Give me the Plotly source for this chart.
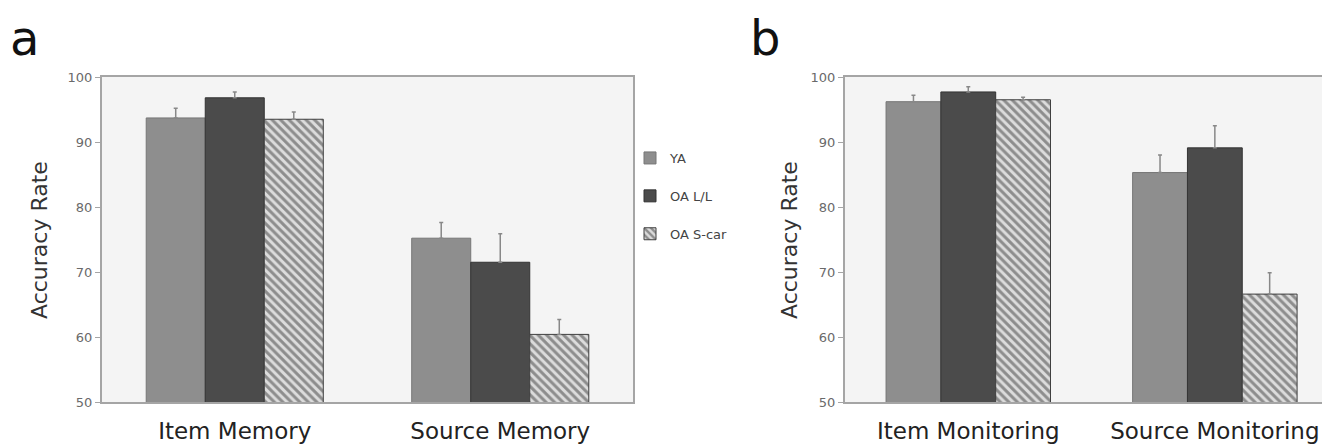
import plotly.graph_objects as go

groups = ["YA", "OA L/L", "OA S-car"]
cats_a = ["Item Memory", "Source Memory"]
cats_b = ["Item Monitoring", "Source Monitoring"]

# panel a
ya_a = [93.7, 75.2]
oall_a = [96.8, 71.5]
oas_a = [93.5, 60.4]
ya_a_err = [1.5, 2.4]
oall_a_err = [0.9, 4.4]
oas_a_err = [1.1, 2.3]

# panel b
ya_b = [96.2, 85.3]
oall_b = [97.7, 89.1]
oas_b = [96.5, 66.6]
ya_b_err = [1.0, 2.7]
oall_b_err = [0.8, 3.4]
oas_b_err = [0.4, 3.3]

y_ticks = [50, 60, 70, 80, 90, 100]

# the page body has an 8px margin; the figure is sized to end at the window edge
OFF = 8
W, H = 1330 - OFF, 445 - OFF


def px(sx):
    return (sx - OFF) / W


def py(sy):
    return 1 - (sy - OFF) / H


FONT = "DejaVu Sans, Arial, sans-serif"

styles = {
    "YA": dict(color="#8e8e8e", line=dict(color="#767676", width=1)),
    "OA L/L": dict(color="#4b4b4b", line=dict(color="#333333", width=1)),
    "OA S-car": dict(color="#dcdcdc", line=dict(color="#3f3f3f", width=1),
                     pattern=dict(shape="\\", fgcolor="#3e3e3e", bgcolor="#dcdcdc",
                                  size=6, solidity=0.5)),
}

fig = go.Figure()


def add_panel(cats, vals, errs, xa, ya, show):
    for g, v, e in zip(groups, vals, errs):
        fig.add_trace(go.Bar(
            x=cats, y=v, name=g, legendgroup=g, showlegend=show,
            marker=styles[g],
            error_y=dict(type="data", array=e, arrayminus=[0] * len(e), symmetric=False,
                         color="#888888", thickness=1.5, width=2),
            xaxis=xa, yaxis=ya,
        ))


add_panel(cats_a, [ya_a, oall_a, oas_a], [ya_a_err, oall_a_err, oas_a_err], "x", "y", True)
add_panel(cats_b, [ya_b, oall_b, oas_b], [ya_b_err, oall_b_err, oas_b_err], "x2", "y2", False)

ydom = [py(402), py(77)]
axis_common_y = dict(range=[50, 100], tickvals=y_ticks, showgrid=False, zeroline=False,
                     showline=True, linecolor="#a5a5a5", linewidth=2, automargin=False,
                     ticks="outside", ticklen=5, tickcolor="#a5a5a5", tickwidth=1,
                     tickfont=dict(family=FONT, size=13, color="#6a6a6a"))
axis_common_x = dict(type="category", showgrid=False, zeroline=False, automargin=False,
                     showline=True, linecolor="#a5a5a5", linewidth=2, mirror=True,
                     ticks="", ticklabelstandoff=7,
                     tickfont=dict(family=FONT, size=23, color="#222222"))

fig.update_layout(
    width=W, height=H,
    margin=dict(l=0, r=0, t=0, b=0, autoexpand=False),
    paper_bgcolor="white", plot_bgcolor="#f4f4f4",
    barmode="group", bargap=0.333, bargroupgap=0,
    xaxis=dict(domain=[px(102), px(633)], anchor="y", range=[-0.5, 1.5], **axis_common_x),
    yaxis=dict(domain=ydom, anchor="x", mirror=True, **axis_common_y),
    xaxis2=dict(domain=[px(845), 1.0], anchor="y2", range=[-0.5, 1.467], **axis_common_x),
    yaxis2=dict(domain=ydom, anchor="x2", mirror=False, **axis_common_y),
    legend=dict(x=px(630), y=py(143), xanchor="left", yanchor="top",
                font=dict(family=FONT, size=13, color="#444444"),
                bgcolor="rgba(0,0,0,0)", tracegroupgap=18, itemwidth=30),
    showlegend=True,
    annotations=[
        dict(text="a", x=px(8), y=1, xref="paper", yref="paper",
             xanchor="left", yanchor="top", showarrow=False,
             font=dict(family=FONT, size=48, color="#111111")),
        dict(text="b", x=px(748), y=1, xref="paper", yref="paper",
             xanchor="left", yanchor="top", showarrow=False,
             font=dict(family=FONT, size=48, color="#111111")),
        dict(text="Accuracy Rate", x=px(40), y=py(240), xref="paper", yref="paper",
             textangle=-90, showarrow=False, xanchor="center", yanchor="middle",
             font=dict(family=FONT, size=22, color="#333333")),
        dict(text="Accuracy Rate", x=px(790), y=py(240), xref="paper", yref="paper",
             textangle=-90, showarrow=False, xanchor="center", yanchor="middle",
             font=dict(family=FONT, size=22, color="#333333")),
    ],
)

fig.write_html("out.html")
